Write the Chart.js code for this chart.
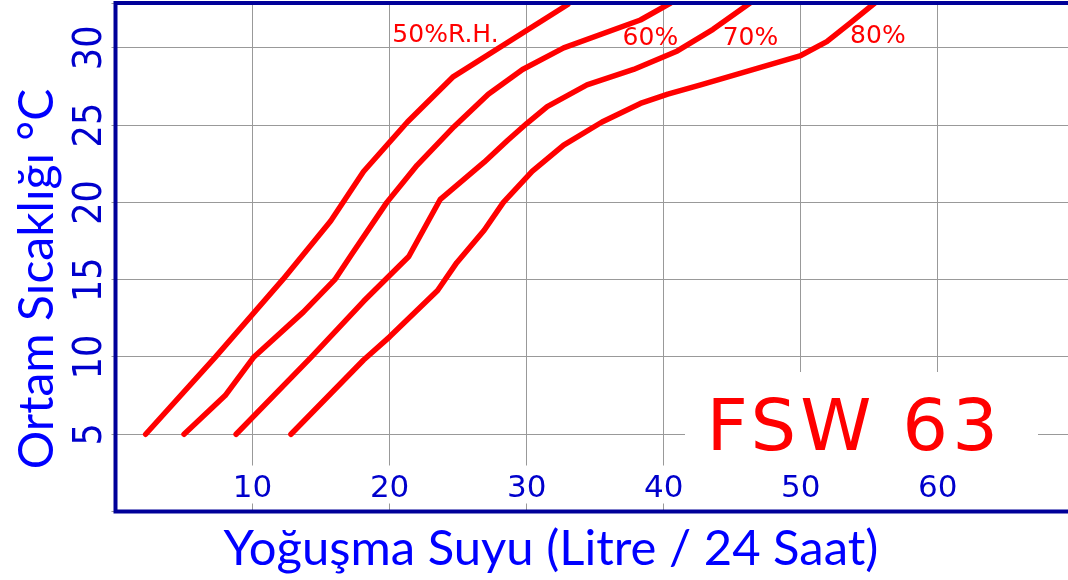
<!DOCTYPE html>
<html>
<head>
<meta charset="utf-8">
<script src="https://cdn.jsdelivr.net/npm/chart.js@4.4.1/dist/chart.umd.min.js"></script>
<style>
  html, body { margin: 0; padding: 0; background: #fff; }
</style>
</head>
<body>
<canvas id="myChart" width="1068" height="580"></canvas>
<script>
// ===== DATA =====
const xTicks = [10, 20, 30, 40, 50, 60];
const yTicks = [5, 10, 15, 20, 25, 30];

// condensate (L/24h) vs ambient temperature, one curve per relative humidity
const rh50X = [2.2, 7.3, 12.2, 15.7, 18.1, 21.3, 24.6, 33.0];
const rh50Y = [5, 10, 15, 18.8, 22.0, 25.2, 28.1, 32.8];

const rh60X = [5.0, 8.0, 10.1, 13.7, 16.0, 17.2, 19.8, 22.0, 24.7, 27.2, 29.7, 32.7, 38.3, 40.5];
const rh60Y = [5, 7.5, 10, 12.9, 15.0, 16.6, 20.0, 22.4, 24.9, 27.0, 28.6, 30.0, 31.8, 32.9];

const rh70X = [8.8, 14.3, 18.1, 21.4, 23.7, 26.9, 28.6, 30.0, 31.5, 34.4, 37.8, 41.0, 43.6, 46.3];
const rh70Y = [5, 10, 13.6, 16.5, 20.2, 22.6, 24.0, 25.1, 26.2, 27.6, 28.6, 29.8, 31.2, 32.9];

const rh80X = [12.8, 18.1, 20.0, 23.5, 24.9, 26.9, 28.3, 30.4, 32.7, 35.5, 38.3, 40.3, 42.7, 50.0, 51.9, 53.6, 55.4];
const rh80Y = [5, 9.8, 11.3, 14.3, 16.1, 18.2, 20.0, 22.0, 23.7, 25.2, 26.4, 27.0, 27.6, 29.5, 30.4, 31.6, 32.9];

const curveLabels = ['50%R.H.', '60%', '70%', '80%'];
const curveLabelX = [20.2, 37.0, 44.3, 53.6];
const curveLabelY = [30.4, 30.2, 30.2, 30.3];

const modelName = 'FSW 63';
const xTitle = 'Yoğuşma Suyu (Litre / 24 Saat)';
const yTitle = 'Ortam Sıcaklığı °C';

const toPoints = (xs, ys) => xs.map((v, i) => ({ x: v, y: ys[i] }));

// ===== OVERLAY: tick labels, frame, titles, annotations =====
const overlay = {
  id: 'overlay',
  afterDatasetsDraw(chart) {
    const { ctx, chartArea: a, scales: { x, y } } = chart;
    ctx.save();

    // curve labels
    ctx.fillStyle = '#ff0000';
    ctx.font = '25px "DejaVu Sans"';
    ctx.textAlign = 'left';
    ctx.textBaseline = 'alphabetic';
    curveLabels.forEach((t, i) => {
      ctx.fillText(t, x.getPixelForValue(curveLabelX[i]), y.getPixelForValue(curveLabelY[i]));
    });

    // model name with white box
    ctx.fillStyle = '#fff';
    ctx.fillRect(685, 372, 353, a.bottom - 372);
    ctx.fillStyle = '#ff0000';
    ctx.font = '72px "DejaVu Sans"';
    ctx.textAlign = 'center';
    ctx.letterSpacing = '4px';
    ctx.fillText(modelName, x.getPixelForValue(53.9), y.getPixelForValue(3.98));
    ctx.letterSpacing = '0px';

    // x tick labels (inside plot, white backdrop)
    ctx.font = '31px "DejaVu Sans"';
    xTicks.forEach(v => {
      const px = x.getPixelForValue(v);
      const w = ctx.measureText(String(v)).width;
      ctx.fillStyle = '#fff';
      ctx.fillRect(px - w / 2 - 3, a.bottom - 46, w + 6, 38);
      ctx.fillStyle = '#0000cc';
      ctx.fillText(String(v), px, a.bottom - 14.5);
    });

    // y tick labels (rotated)
    ctx.font = '39px "Liberation Sans Narrow", "DejaVu Sans Condensed"';
    ctx.fillStyle = '#0000cc';
    yTicks.forEach(v => {
      ctx.save();
      ctx.translate(a.left - 15, y.getPixelForValue(v));
      ctx.rotate(-Math.PI / 2);
      ctx.textAlign = 'center';
      ctx.fillText(String(v), 0, 0);
      ctx.restore();
    });

    // frame
    ctx.strokeStyle = '#000099';
    ctx.lineWidth = 4;
    ctx.beginPath();
    ctx.moveTo(chart.width, a.top);
    ctx.lineTo(a.left, a.top);
    ctx.lineTo(a.left, a.bottom);
    ctx.lineTo(chart.width, a.bottom);
    ctx.stroke();

    // axis titles
    ctx.fillStyle = '#0000ff';
    ctx.textAlign = 'center';
    ctx.font = '49px Lato';
    ctx.fillText(xTitle, 551, 565);
    ctx.save();
    ctx.font = '48px Lato';
    ctx.translate(53, 279);
    ctx.rotate(-Math.PI / 2);
    ctx.fillText(yTitle, 0, 0);
    ctx.restore();

    ctx.restore();
  }
};

// ===== LINE CHART =====
const lineStyle = {
  showLine: true,
  borderColor: '#ff0000',
  borderWidth: 5.5,
  borderCapStyle: 'round',
  borderJoinStyle: 'round',
  pointRadius: 0,
  tension: 0
};

const ctx = document.getElementById('myChart').getContext('2d');
new Chart(ctx, {
  type: 'scatter',
  data: {
    datasets: [
      { label: '50%', data: toPoints(rh50X, rh50Y), ...lineStyle },
      { label: '60%', data: toPoints(rh60X, rh60Y), ...lineStyle },
      { label: '70%', data: toPoints(rh70X, rh70Y), ...lineStyle },
      { label: '80%', data: toPoints(rh80X, rh80Y), ...lineStyle }
    ]
  },
  options: {
    responsive: false,
    animation: false,
    devicePixelRatio: 1,
    layout: { padding: { top: 3, right: 0, bottom: 0, left: 0 } },
    plugins: { legend: { display: false }, tooltip: { enabled: false } },
    scales: {
      x: {
        type: 'linear',
        min: 0, max: 69.5,
        ticks: { display: false, stepSize: 10 },
        grid: { color: '#999', lineWidth: 1, drawTicks: false },
        border: { display: false },
        afterFit(s) { s.height = 68.5; }
      },
      y: {
        type: 'linear',
        min: 0, max: 32.9,
        ticks: { display: false, stepSize: 5 },
        grid: { color: '#999', lineWidth: 1, drawTicks: true, tickLength: 4 },
        border: { display: false },
        afterFit(s) { s.width = 115.5; }
      }
    }
  },
  plugins: [overlay]
});
</script>
</body>
</html>
